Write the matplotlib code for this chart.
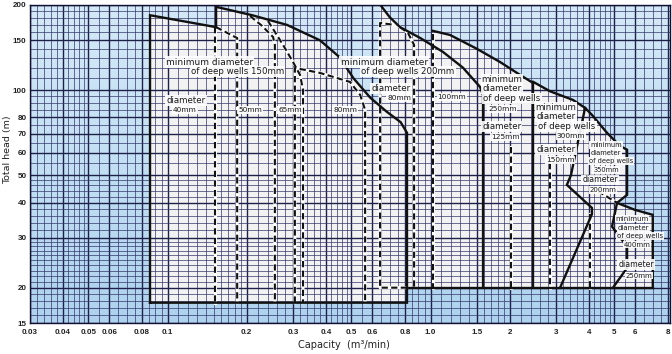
import numpy as np
import matplotlib
matplotlib.use("Agg")
import matplotlib.pyplot as plt
from matplotlib.ticker import NullLocator
from matplotlib.colors import LinearSegmentedColormap

# ----------------------------------------------------------------------
# Values (capacity m3/min, total head m)
# ----------------------------------------------------------------------
XTICKS = [0.03, 0.04, 0.05, 0.06, 0.08, 0.1, 0.2, 0.3, 0.4, 0.5, 0.6, 0.8,
          1.0, 1.5, 2, 3, 4, 5, 6, 8]
XTICK_LABELS = ["0.03", "0.04", "0.05", "0.06", "0.08", "0.1", "0.2", "0.3",
                "0.4", "0.5", "0.6", "0.8", "1.0", "1.5", "2", "3", "4", "5",
                "6", "8"]
YTICKS = [15, 20, 30, 40, 50, 60, 70, 80, 100, 150, 200]

# well 150mm range (closed outline)
A_CAP = [0.0858, 0.0858, 0.153, 0.153, 0.21, 0.285, 0.38, 0.45, 0.51, 0.59,
         0.68, 0.77, 0.814, 0.814, 0.0858]
A_HEAD = [17.7, 184, 167, 197, 184, 170, 150, 131, 110, 94, 84, 77, 70.6,
          17.7, 17.7]

# well 200mm range
B_LEFT = 0.643
B_TOP_CAP = [0.632, 0.70, 0.766, 0.912, 1.115, 1.329, 1.543, 1.584]
B_TOP_HEAD = [205, 181, 167, 153, 136.5, 120, 102.6, 96]

# well 250mm range
C_LEFT = 1.022
C_TOP_CAP = [1.022, 1.186, 1.50, 1.838, 2.189, 2.453]
C_TOP_HEAD = [162, 156.7, 140, 125.7, 113.2, 106]

# well 300mm range
D_TOP_CAP = [2.453, 2.85, 3.48, 3.87]
D_TOP_HEAD = [107, 99, 92.3, 86.5]
DE_CAP = [3.87, 3.42, 3.30, 4.11, 4.11, 3.11]
DE_HEAD = [86.5, 50, 46.2, 38.3, 36.4, 20]

# well 350mm range
E_TOP_CAP = [3.87, 4.11, 4.69, 5.25, 5.59]
E_TOP_HEAD = [86.5, 81.7, 70.6, 63.5, 61.5]
EF_CAP = [5.59, 5.59, 5.12, 4.90, 5.59, 5.59, 4.94]
EF_HEAD = [61.5, 42.6, 39.9, 32.9, 27.9, 23.5, 20]

# well 400mm range
F_TOP_CAP = [5.12, 5.99, 7.0, 7.0]
F_TOP_HEAD = [39.9, 37.7, 36.2, 20]

BOTTOM_HEAD = 20
BOTTOM_CAP = [0.814, 7.0]

# pump limit curves (dashed)
DASHED = [
    ([0.1516, 0.1516], [167, 17.7]),
    ([0.153, 0.184, 0.184], [167, 152.8, 17.7]),
    ([0.206, 0.229, 0.252, 0.256, 0.256], [182.9, 168.6, 154, 144.5, 17.7]),
    ([0.241, 0.275, 0.300, 0.319, 0.3275, 0.3275], [175.6, 144.5, 125.7, 113.2, 100.2, 17.7]),
    ([0.305, 0.305, 0.38, 0.494, 0.540, 0.564, 0.564], [17.7, 119.8, 115, 106.9, 96.2, 85.1, 17.7]),
    ([0.814, 0.643, 0.643, 0.733], [20, 20, 172.8, 170]),
    ([0.766, 0.821, 0.866, 0.866, 0.866], [167, 159.3, 144.5, 127.8, 20]),
    ([1.022, 1.022], [158, 20]),
    ([2.024, 2.024], [63, 20]),
    ([2.848, 2.848], [55.3, 20]),
    ([4.335, 5.118], [43.9, 39.9]),
    ([4.042, 4.042], [36.4, 20]),
]

# text labels: (text, capacity, head, size)
LABELS = [
    ("minimum diameter", 0.144, 125.7, 6.5),
    ("of deep wells 150mm", 0.184, 116, 6.2),
    ("diameter", 0.1176, 91.6, 6.2),
    ("40mm", 0.1166, 85.1, 5.3),
    ("50mm", 0.206, 85.1, 5.3),
    ("65mm", 0.292, 85.1, 5.3),
    ("80mm", 0.473, 85.1, 5.3),
    ("minimum diameter", 0.666, 125.7, 6.5),
    ("of deep wells 200mm", 0.821, 116, 6.2),
    ("diameter", 0.708, 101, 6.2),
    ("80mm", 0.759, 93.9, 5.3),
    ("100mm", 1.207, 94.6, 5.3),
    ("minimum", 1.87, 108.6, 6.2),
    ("diameter", 1.87, 101, 6.2),
    ("of deep wells", 2.041, 93.2, 6.2),
    ("250mm", 1.874, 85.8, 5.3),
    ("diameter", 1.866, 74.1, 6.2),
    ("125mm", 1.92, 68.3, 5.3),
    ("minimum", 3.0, 86.5, 6.2),
    ("diameter", 3.0, 80.4, 6.2),
    ("of deep wells", 3.304, 74.1, 6.2),
    ("300mm", 3.422, 68.9, 5.3),
    ("diameter", 3.0, 61.5, 6.2),
    ("150mm", 3.108, 56.7, 5.3),
    ("minimum", 4.648, 64.0, 4.8),
    ("diameter", 4.648, 60.0, 4.8),
    ("of deep wells", 4.856, 56.2, 4.8),
    ("350mm", 4.648, 52.2, 4.8),
    ("diameter", 4.411, 48.1, 5.6),
    ("200mm", 4.528, 44.4, 5.0),
    ("minimum", 5.837, 35.1, 5.0),
    ("diameter", 5.9, 32.6, 5.0),
    ("of deep wells", 6.262, 30.5, 5.0),
    ("400mm", 6.1, 28.4, 5.0),
    ("diameter", 6.045, 24.1, 5.6),
    ("250mm", 6.2, 22.06, 5.0),
]

LINE = "#111111"
GRID = "#1d2048"
GRID_MINOR = "#33366a"
FILL = "#f2f2f2"


def grid_positions(lo, hi, steps):
    """steps: list of (start, stop, step) inside one decade, scaled over decades"""
    out = []
    dec = 10.0 ** np.floor(np.log10(lo)) / 10
    while dec <= hi:
        for a, b, s in steps:
            for v in np.arange(a, b + 1e-9, s):
                val = v * dec
                if lo * 0.999 <= val <= hi * 1.001:
                    out.append(val)
        dec *= 10
    return sorted(set(np.round(out, 6)))


def main():
    fig = plt.figure(figsize=(6.72, 3.54), dpi=100)
    ax = fig.add_axes([30 / 672, 31 / 354, 640 / 672, 318 / 354])
    ax.set_xscale("log")
    ax.set_yscale("log")
    ax.set_xlim(0.03, 8.14)
    ax.set_ylim(15, 200)

    # blue background, lighter towards the top
    cmap = LinearSegmentedColormap.from_list("bg", ["#aed2ee", "#c2dff3", "#d4e9f7"])
    grad = np.linspace(0, 1, 256).reshape(-1, 1) * np.ones((1, 16))
    ax.imshow(grad, extent=[0, 1, 0, 1], transform=ax.transAxes, aspect="auto",
              cmap=cmap, origin="lower", zorder=0)

    # white regions
    ax.fill(A_CAP, A_HEAD, color=FILL, zorder=1, lw=0)
    ax.fill([B_LEFT, B_LEFT] + B_TOP_CAP[1:] + [B_TOP_CAP[-1]],
            [BOTTOM_HEAD, 205] + B_TOP_HEAD[1:] + [BOTTOM_HEAD], color=FILL, zorder=1, lw=0)
    ax.fill([C_LEFT] + C_TOP_CAP + [C_TOP_CAP[-1]],
            [BOTTOM_HEAD] + C_TOP_HEAD + [BOTTOM_HEAD], color=FILL, zorder=1, lw=0)
    ax.fill([D_TOP_CAP[0]] + D_TOP_CAP + DE_CAP[1:],
            [BOTTOM_HEAD] + D_TOP_HEAD + DE_HEAD[1:], color=FILL, zorder=1, lw=0)
    ax.fill(E_TOP_CAP + EF_CAP[1:] + DE_CAP[::-1],
            E_TOP_HEAD + EF_HEAD[1:] + DE_HEAD[::-1], color=FILL, zorder=1, lw=0)
    ax.fill(F_TOP_CAP + EF_CAP[:1:-1],
            F_TOP_HEAD + EF_HEAD[:1:-1], color=FILL, zorder=1, lw=0)

    # log paper grid
    xs = grid_positions(0.03, 8.14, [(1, 2, 0.1), (2, 5, 0.2), (5, 10, 0.5)])
    ys = grid_positions(15, 200, [(10, 30, 1), (30, 50, 2), (50, 100, 5)])
    for x in xs:
        major = any(abs(x - t) < 1e-6 for t in XTICKS)
        ax.axvline(x, color=GRID if major else GRID_MINOR,
                   lw=1.0 if major else 0.5, zorder=2)
    for y in ys:
        major = y in YTICKS
        ax.axhline(y, color=GRID if major else GRID_MINOR,
                   lw=1.0 if major else 0.5, zorder=2)

    # solid range outlines
    kw = dict(color=LINE, lw=1.7, zorder=4, solid_joinstyle="miter")
    ax.plot(A_CAP, A_HEAD, **kw)
    ax.plot(B_TOP_CAP + [B_TOP_CAP[-1]], B_TOP_HEAD + [BOTTOM_HEAD], **kw)
    ax.plot(C_TOP_CAP + [C_TOP_CAP[-1]], C_TOP_HEAD + [BOTTOM_HEAD], **kw)
    ax.plot(D_TOP_CAP + DE_CAP[1:], D_TOP_HEAD + DE_HEAD[1:], **kw)
    ax.plot(E_TOP_CAP + EF_CAP[1:], E_TOP_HEAD + EF_HEAD[1:], **kw)
    ax.plot(F_TOP_CAP, F_TOP_HEAD, **kw)
    ax.plot(BOTTOM_CAP, [BOTTOM_HEAD, BOTTOM_HEAD], **kw)

    # dashed pump limits: white line with black dashes
    for cap, head in DASHED:
        ax.plot(cap, head, color="white", lw=2.2, zorder=3)
        ax.plot(cap, head, color=LINE, lw=1.5, dashes=(3, 1.6), zorder=3.5)

    for text, cap, head, size in LABELS:
        ax.text(cap, head, text, fontsize=size, ha="center", va="center",
                color="#1a1a1a", zorder=6,
                bbox=dict(boxstyle="square,pad=0.12", fc="white", ec="none", alpha=0.9))

    ax.set_xticks(XTICKS, XTICK_LABELS)
    ax.set_yticks(YTICKS, [str(v) for v in YTICKS])
    ax.xaxis.set_minor_locator(NullLocator())
    ax.yaxis.set_minor_locator(NullLocator())
    ax.tick_params(length=0, labelsize=5.8, colors="#222222")
    ax.tick_params(axis="x", pad=4)
    ax.tick_params(axis="y", pad=2.5)
    for lab in ax.get_xticklabels() + ax.get_yticklabels():
        lab.set_fontweight("bold")
        lab.set_family("Liberation Sans")
    for sp in ax.spines.values():
        sp.set_color("#101030")
        sp.set_linewidth(1.0)
        sp.set_zorder(7)

    fig.text(344 / 672, 1 - 345 / 354, "Capacity  (m³/min)", fontsize=7,
             ha="center", va="center", color="#222222")
    fig.text(8 / 672, 1 - 150 / 354, "Total head (m)", fontsize=6.8, rotation=90,
             ha="center", va="center", color="#222222")

    fig.savefig("out.png", dpi=100)
    plt.close(fig)


if __name__ == "__main__":
    main()
